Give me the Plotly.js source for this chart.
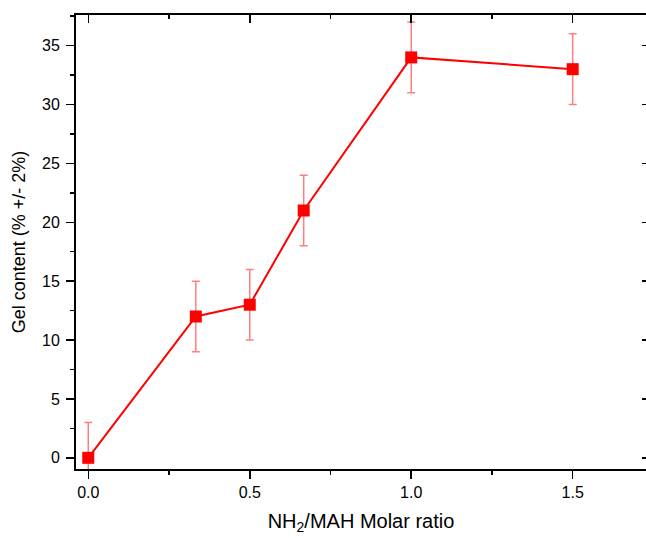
<!DOCTYPE html>
<html>
<head>
<meta charset="utf-8">
<script src="https://cdn.plot.ly/plotly-3.0.1.min.js"></script>
<style>html,body{margin:0;padding:0;background:#fff;}#chart{width:646px;height:538px;}</style>
</head>
<body>
<div id="chart"></div>
<script>
var ratio = [0, 0.333, 0.5, 0.667, 1.0, 1.5];
var gel = [0, 12, 13, 21, 34, 33];
var gelErr = [3, 3, 3, 3, 3, 3];
var xTickVals = [0, 0.5, 1.0, 1.5];
var xTickText = ['0.0', '0.5', '1.0', '1.5'];
var yTickVals = [0, 5, 10, 15, 20, 25, 30, 35];

var xRange = [-0.038, 1.727];
var yRange = [-0.95, 37.6];
var fnt = 'Liberation Sans, Arial, sans-serif';

var main = {
  x: ratio, y: gel, type: 'scatter', mode: 'lines+markers',
  line: {color: '#ff0000', width: 2},
  marker: {symbol: 'square', size: 12, color: '#ff0000'},
  error_y: {type: 'data', array: gelErr, visible: true, color: 'rgba(255,0,0,0.5)', thickness: 1.5, width: 4},
  showlegend: false, hoverinfo: 'x+y'
};
var frame = {
  x: ratio, y: gel, type: 'scatter', mode: 'markers', xaxis: 'x2', yaxis: 'y2',
  marker: {opacity: 0}, showlegend: false, hoverinfo: 'skip'
};

var layout = {
  width: 646, height: 538,
  margin: {l: 76, r: 0, t: 15, b: 69},
  paper_bgcolor: '#ffffff', plot_bgcolor: '#ffffff',
  font: {family: fnt, color: '#000'},
  xaxis: {
    range: xRange, showgrid: false, zeroline: false,
    showline: true, linecolor: '#000', linewidth: 2,
    ticks: 'outside', ticklen: 8, tickwidth: 1.5, tickcolor: '#000',
    tickvals: xTickVals, ticktext: xTickText,
    tickfont: {size: 16, family: fnt},
    minor: {dtick: 0.25, tick0: 0, ticks: 'outside', ticklen: 4, tickwidth: 1.5, tickcolor: '#000'},
    title: {text: 'NH<sub>2</sub>/MAH Molar ratio', font: {size: 20, family: fnt}, standoff: 14}
  },
  yaxis: {
    range: yRange, showgrid: false, zeroline: false,
    showline: true, linecolor: '#000', linewidth: 2,
    ticks: 'outside', ticklen: 8, tickwidth: 1.5, tickcolor: '#000',
    tickvals: yTickVals, ticklabelstandoff: 3,
    tickfont: {size: 16, family: fnt},
    minor: {dtick: 2.5, tick0: 0, ticks: 'outside', ticklen: 4, tickwidth: 1.5, tickcolor: '#000'},
    title: {text: 'Gel content (% +/- 2%)', font: {size: 18, family: fnt}, standoff: 12}
  },
  xaxis2: {
    overlaying: 'x', side: 'top', anchor: 'y2', range: xRange,
    showgrid: false, zeroline: false, showline: true, linecolor: '#000', linewidth: 2,
    ticks: 'inside', ticklen: 8, tickwidth: 1.5, tickcolor: '#000',
    tickvals: xTickVals, showticklabels: false,
    minor: {dtick: 0.25, tick0: 0, ticks: 'inside', ticklen: 4, tickwidth: 1.5, tickcolor: '#000'}
  },
  yaxis2: {
    overlaying: 'y', side: 'right', anchor: 'x2', range: yRange,
    showgrid: false, zeroline: false, showline: false,
    ticks: 'inside', ticklen: 4, tickwidth: 1.5, tickcolor: '#000',
    tickvals: yTickVals, showticklabels: false
  }
};

Plotly.newPlot('chart', [frame, main], layout, {displayModeBar: false, staticPlot: true});
</script>
</body>
</html>
